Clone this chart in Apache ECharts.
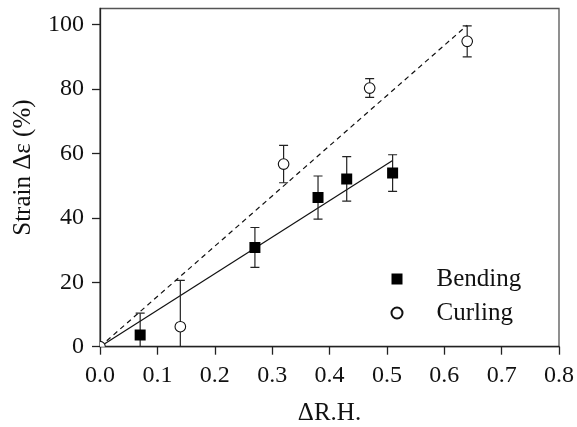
<!DOCTYPE html>
<html>
<head>
<meta charset="utf-8">
<script src="https://cdn.jsdelivr.net/npm/echarts@6/dist/echarts.min.js"></script>
<style>
  html, body { margin: 0; padding: 0; background: #fff; }
  #chart { width: 577px; height: 427px; }
</style>
</head>
<body>
<div id="chart"></div>
<script>
// Measured strain vs. relative humidity change
const bendX   = [0.07, 0.27, 0.38, 0.43, 0.51];
const bendY   = [3.6, 30.8, 46.3, 52.1, 53.9];
const bendErr = [6.8, 6.2, 6.7, 6.9, 5.7];

const curlX   = [0.0, 0.14, 0.32, 0.47, 0.64];
const curlY   = [0.0, 6.2, 56.7, 80.3, 94.8];
const curlErr = [0.0, 14.4, 5.8, 2.9, 4.8];

// Linear fits through the origin
const bendFitX = [0, 0.51];
const bendFitY = [0, 57.8];
const curlFitX = [0, 0.64];
const curlFitY = [0, 99.8];

const xTicks = [0, 0.1, 0.2, 0.3, 0.4, 0.5, 0.6, 0.7, 0.8];
const yTicks = [0, 20, 40, 60, 80, 100];

const FONT = "'Liberation Serif', 'Times New Roman', serif";
const INK = '#111';

function zip(xs, ys) { return xs.map((x, i) => [x, ys[i]]); }
function errData(xs, ys, es) { return xs.map((x, i) => [x, ys[i], es[i]]); }

// Vertical error bar with caps; the lower part is cut at the x axis
function renderErr(params, api) {
  const x = api.value(0), y = api.value(1), e = api.value(2);
  if (!e) return null;
  const lo = Math.max(y - e, 0);
  const pTop = api.coord([x, y + e]);
  const pLo = api.coord([x, lo]);
  const cap = 4.5;
  const style = { stroke: '#222', lineWidth: 1.2 };
  const children = [
    { type: 'line', shape: { x1: pTop[0], y1: pTop[1], x2: pLo[0], y2: pLo[1] }, style },
    { type: 'line', shape: { x1: pTop[0] - cap, y1: pTop[1], x2: pTop[0] + cap, y2: pTop[1] }, style }
  ];
  if (y - e >= 0) {
    children.push({ type: 'line', shape: { x1: pLo[0] - cap, y1: pLo[1], x2: pLo[0] + cap, y2: pLo[1] }, style });
  }
  return { type: 'group', children };
}

// Markers drawn as clipped shapes so points on the axes are cut by the frame
function renderSquare(params, api) {
  const p = api.coord([api.value(0), api.value(1)]);
  const s = 11;
  return { type: 'rect', shape: { x: p[0] - s / 2, y: p[1] - s / 2, width: s, height: s },
           style: { fill: '#000' } };
}
function renderCircle(params, api) {
  const p = api.coord([api.value(0), api.value(1)]);
  return { type: 'circle', shape: { cx: p[0], cy: p[1], r: 5.3 },
           style: { fill: '#fff', stroke: INK, lineWidth: 1.1 } };
}

const chart = echarts.init(document.getElementById('chart'), null, { renderer: 'canvas' });

chart.setOption({
  animation: false,
  backgroundColor: '#fff',
  textStyle: { fontFamily: FONT, color: INK },
  grid: {
    left: 100, right: 18, top: 8.5, bottom: 80.3,
    containLabel: false, outerBoundsMode: 'none',
    show: true, borderColor: '#555', borderWidth: 1.3, backgroundColor: 'transparent'
  },
  legend: {
    left: 385.5, top: 261, orient: 'vertical',
    itemWidth: 11, itemHeight: 11, itemGap: 8,
    data: [
      { name: 'Bending', icon: 'rect' },
      { name: 'Curling', icon: 'circle' }
    ],
    textStyle: { fontFamily: FONT, fontSize: 25, color: INK, lineHeight: 26, padding: [0, 0, 0, 29] },
    selectedMode: false
  },
  xAxis: {
    type: 'value', min: 0, max: 0.8, interval: 0.1,
    name: 'ΔR.H.', nameLocation: 'middle', nameGap: 54,
    nameTextStyle: { fontFamily: FONT, fontSize: 25, color: INK },
    axisLine: { show: true, lineStyle: { color: '#222', width: 1.3 } },
    axisTick: { show: true, inside: false, length: 8, lineStyle: { color: '#222', width: 1.3 }, customValues: xTicks },
    axisLabel: { margin: 17, fontFamily: FONT, fontSize: 24, color: INK, customValues: xTicks,
                 formatter: v => v.toFixed(1) },
    splitLine: { show: false }
  },
  yAxis: {
    type: 'value', min: 0, max: 105, interval: 20,
    name: 'Strain Δε (%)', nameLocation: 'middle', nameGap: 64, nameRotate: 90,
    nameTextStyle: { fontFamily: FONT, fontSize: 25, color: INK, padding: [0, 0, 0, 20] },
    axisLine: { show: true, lineStyle: { color: '#222', width: 1.3 } },
    axisTick: { show: true, inside: false, length: 8, lineStyle: { color: '#222', width: 1.3 }, customValues: yTicks },
    axisLabel: { margin: 16, fontFamily: FONT, fontSize: 24, color: INK, customValues: yTicks },
    splitLine: { show: false }
  },
  series: [
    {
      name: 'bendFit', type: 'line', data: zip(bendFitX, bendFitY),
      symbol: 'none', lineStyle: { color: INK, width: 1.2 }, z: 2, silent: true
    },
    {
      name: 'curlFit', type: 'line', data: zip(curlFitX, curlFitY),
      symbol: 'none', lineStyle: { color: INK, width: 1.2, type: [5, 4] }, z: 2, silent: true
    },
    {
      name: 'bendErr', type: 'custom', data: errData(bendX, bendY, bendErr),
      renderItem: renderErr, z: 3, silent: true, clip: true
    },
    {
      name: 'curlErr', type: 'custom', data: errData(curlX, curlY, curlErr),
      renderItem: renderErr, z: 3, silent: true, clip: true
    },
    {
      name: 'Bending', type: 'custom', data: zip(bendX, bendY),
      renderItem: renderSquare, clip: true, z: 5, silent: true,
      itemStyle: { color: '#000' }
    },
    {
      name: 'Curling', type: 'custom', data: zip(curlX, curlY),
      renderItem: renderCircle, clip: true, z: 5, silent: true,
      itemStyle: { color: '#fff', borderColor: INK, borderWidth: 1.1 }
    }
  ]
});
</script>
</body>
</html>
